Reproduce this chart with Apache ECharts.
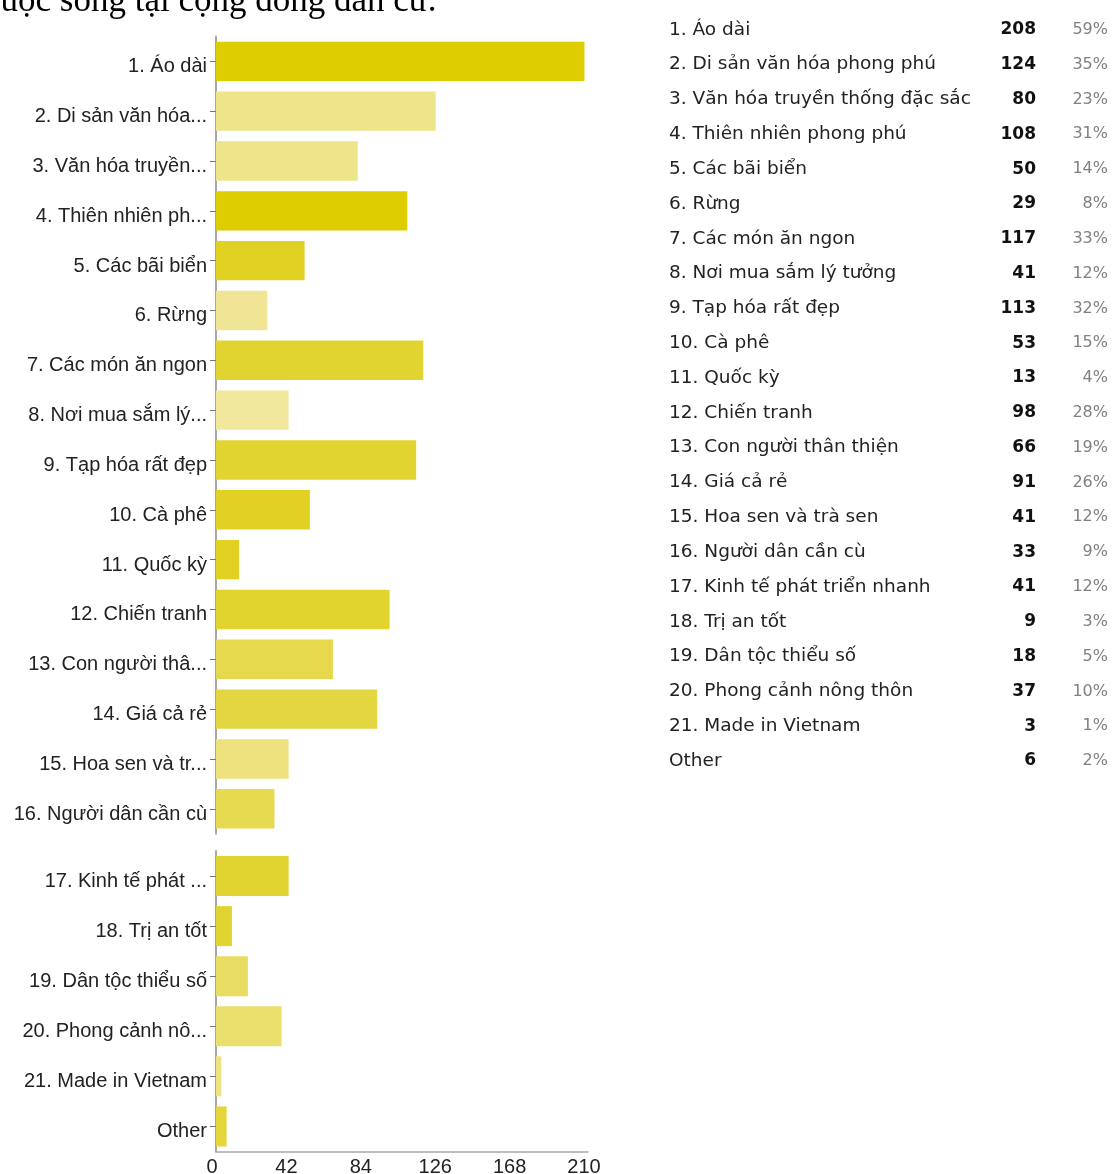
<!DOCTYPE html>
<html>
<head>
<meta charset="utf-8">
<script src="https://cdn.jsdelivr.net/npm/echarts@6/dist/echarts.min.js"></script>
<style>
  html, body { margin: 0; padding: 0; background: #fff; }
  #chart { width: 1112px; height: 1174px; }
</style>
</head>
<body>
<div id="chart"></div>
<script>
// Survey answers (full wording, as listed in the summary table)
const answers = [
  '1. Áo dài', '2. Di sản văn hóa phong phú', '3. Văn hóa truyền thống đặc sắc',
  '4. Thiên nhiên phong phú', '5. Các bãi biển', '6. Rừng', '7. Các món ăn ngon',
  '8. Nơi mua sắm lý tưởng', '9. Tạp hóa rất đẹp', '10. Cà phê', '11. Quốc kỳ',
  '12. Chiến tranh', '13. Con người thân thiện', '14. Giá cả rẻ',
  '15. Hoa sen và trà sen', '16. Người dân cần cù', '17. Kinh tế phát triển nhanh',
  '18. Trị an tốt', '19. Dân tộc thiểu số', '20. Phong cảnh nông thôn',
  '21. Made in Vietnam', 'Other'
];

// Shortened labels used on the bar chart's category axis
const axisLabels = [
  '1. Áo dài', '2. Di sản văn hóa...', '3. Văn hóa truyền...', '4. Thiên nhiên ph...',
  '5. Các bãi biển', '6. Rừng', '7. Các món ăn ngon', '8. Nơi mua sắm lý...',
  '9. Tạp hóa rất đẹp', '10. Cà phê', '11. Quốc kỳ', '12. Chiến tranh',
  '13. Con người thâ...', '14. Giá cả rẻ', '15. Hoa sen và tr...', '16. Người dân cần cù',
  '17. Kinh tế phát ...', '18. Trị an tốt', '19. Dân tộc thiểu số', '20. Phong cảnh nô...',
  '21. Made in Vietnam', 'Other'
];

// Number of responses per answer
const counts = [208, 124, 80, 108, 50, 29, 117, 41, 113, 53, 13, 98, 66, 91, 41, 33, 41, 9, 18, 37, 3, 6];

// Share of respondents (%)
const percents = [59, 35, 23, 31, 14, 8, 33, 12, 32, 15, 4, 28, 19, 26, 12, 9, 12, 3, 5, 10, 1, 2];

// Value axis ticks
const tickValues = [0, 42, 84, 126, 168, 210];

// Bar fill shades
const barColors = [
  '#DDCC00', '#EEE48A', '#EEE48A', '#DDCC00', '#E1D122', '#EFE594', '#E2D430',
  '#F1E89E', '#E2D430', '#E1D124', '#E1D122', '#E2D42E', '#E6D84C', '#E4D640',
  '#EEE27E', '#E6DA50', '#E2D430', '#E2D430', '#E8DC62', '#EADF6C', '#EEE380', '#E4D63A'
];

// The bar chart is split in two blocks (first 16 answers, then the rest)
const splitAt = 16;

const axisMin = tickValues[0];
const axisMax = tickValues[tickValues.length - 1];
const axisStep = tickValues[1] - tickValues[0];

const labelFamily = '"Liberation Sans", Arial, sans-serif';
const tableFont = '"DejaVu Sans", Verdana, sans-serif';

function barData(from, to) {
  return counts.slice(from, to).map((v, i) => ({
    value: v,
    itemStyle: { color: barColors[from + i] }
  }));
}

function categoryAxis(gridIndex, data) {
  return {
    gridIndex,
    type: 'category',
    inverse: true,
    data,
    axisLine: { show: true, lineStyle: { color: '#A8A8A8', width: 2 } },
    axisTick: { show: true, length: 6, alignWithLabel: true, lineStyle: { color: '#777', width: 1 } },
    axisLabel: {
      margin: 9,
      verticalAlign: 'top',
      lineHeight: 11,
      fontFamily: labelFamily,
      fontSize: 20,
      color: '#222'
    }
  };
}

const chart = echarts.init(document.getElementById('chart'), null, { renderer: 'canvas' });

chart.setOption({
  animation: false,
  backgroundColor: '#fff',
  graphic: [{
    type: 'text',
    left: -15,
    top: -16,
    style: {
      text: 'cuộc sống tại cộng đồng dân cư.',
      font: '35px "Liberation Serif", "Times New Roman", serif',
      fill: '#000'
    }
  }],
  grid: [
    { left: 216, top: 36.4, width: 372, height: 797.3, outerBoundsMode: 'none' },
    { left: 216, top: 851, width: 372, height: 300.5, outerBoundsMode: 'none' },
    { left: 660, top: 12.4, width: 448, height: 766, outerBoundsMode: 'none' }
  ],
  xAxis: [
    { gridIndex: 0, type: 'value', min: axisMin, max: axisMax, interval: axisStep, show: false },
    {
      gridIndex: 1, type: 'value', min: axisMin, max: axisMax, interval: axisStep,
      axisLine: { show: true, lineStyle: { color: '#A8A8A8', width: 1.5 } },
      axisTick: { show: false },
      splitLine: { show: false },
      axisLabel: { margin: 6, padding: [0, 8, 0, 0], fontFamily: labelFamily, fontSize: 20, color: '#222' }
    },
    { gridIndex: 2, type: 'value', min: 0, max: 1, show: false }
  ],
  yAxis: [
    categoryAxis(0, axisLabels.slice(0, splitAt)),
    categoryAxis(1, axisLabels.slice(splitAt)),
    {
      gridIndex: 2, type: 'category', inverse: true, position: 'left', data: answers,
      axisLine: { show: false }, axisTick: { show: false },
      axisLabel: { inside: true, margin: 9, fontFamily: tableFont, fontSize: 18.5, color: '#222' }
    },
    {
      gridIndex: 2, type: 'category', inverse: true, position: 'right', data: answers,
      axisLine: { show: false }, axisTick: { show: false },
      axisLabel: {
        inside: true, margin: 0,
        formatter: (v, i) => `{c|${counts[i]}}{p|${percents[i]}%}`,
        rich: {
          c: { width: 60, align: 'right', fontFamily: tableFont, fontWeight: 'bold', fontSize: 17, color: '#111' },
          p: { width: 72, align: 'right', fontFamily: tableFont, fontSize: 16, color: '#808080' }
        }
      }
    }
  ],
  series: [
    {
      type: 'bar', xAxisIndex: 0, yAxisIndex: 0,
      barCategoryGap: '21%',
      data: barData(0, splitAt)
    },
    {
      type: 'bar', xAxisIndex: 1, yAxisIndex: 1,
      barCategoryGap: '20%',
      data: barData(splitAt, counts.length)
    }
  ]
});
</script>
</body>
</html>
